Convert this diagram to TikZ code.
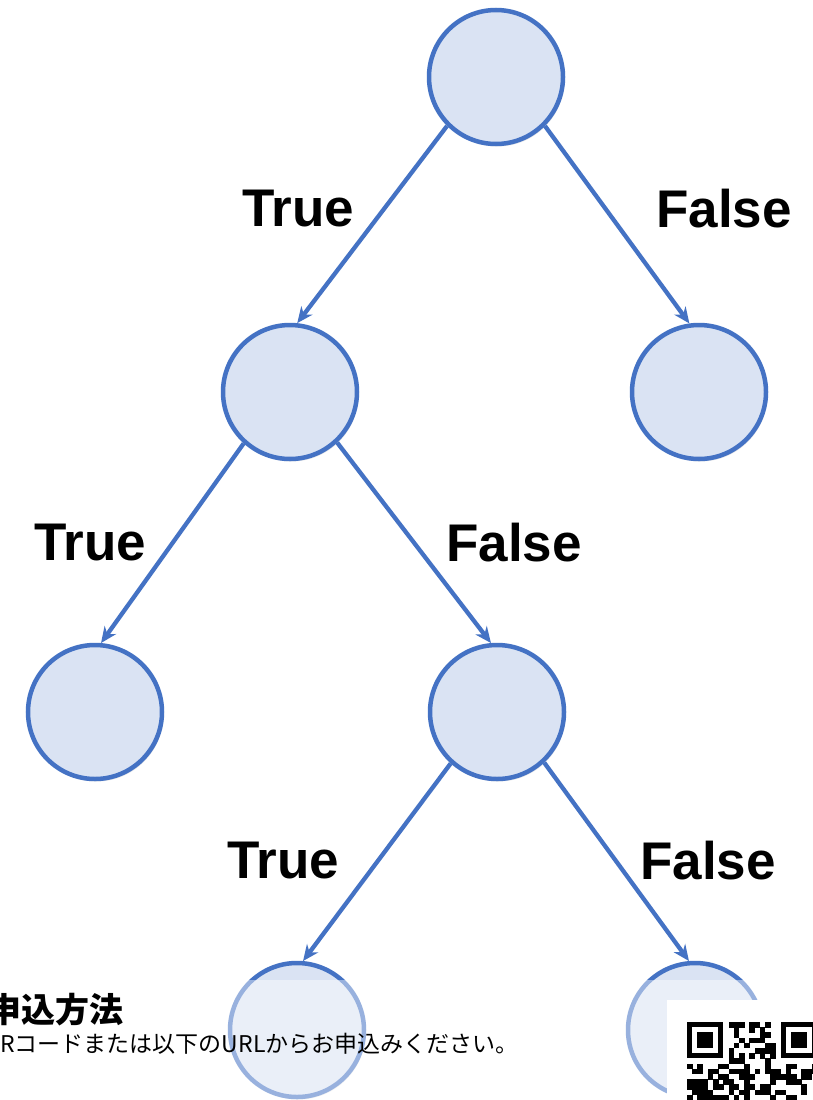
\documentclass[tikz,border=0pt]{standalone}
\usepackage{fontspec}
\setmainfont{Liberation Sans}
\newfontfamily\jpfont{Noto Sans CJK JP}
\usetikzlibrary{arrows.meta,shadows}
\definecolor{edgeblue}{RGB}{68,114,196}
\definecolor{fillblue}{RGB}{218,227,243}
\begin{document}
\begin{tikzpicture}[x=1pt,y=-1pt,
  tnode/.style={circle,draw=edgeblue,line width=4.5pt,fill=fillblue,minimum size=134pt,inner sep=0pt,
    drop shadow={opacity=0.18,shadow xshift=1.5pt,shadow yshift=-2.5pt}},
  conn/.style={draw=edgeblue,line width=4.3pt,-{Stealth[length=16pt,width=14pt]}},
  lbl/.style={font=\fontsize{53}{60}\selectfont\bfseries,inner sep=0pt}]
\useasboundingbox (0,0) rectangle (812,1100);
\fill[white] (0,0) rectangle (812,1100);
% nodes
\node[tnode] (n1) at (496,77) {};
\node[tnode] (n2) at (290,392) {};
\node[tnode] (n3) at (699,392) {};
\node[tnode] (n4) at (95,712) {};
\node[tnode] (n5) at (497,712) {};
\node[tnode] (n6) at (297,1030) {};
\node[tnode] (n7) at (695,1030) {};
% connectors
\draw[conn] (n1.225) -- (n2.84);
\draw[conn] (n1.-45) -- (n3.98);
\draw[conn] (n2.228) -- (n4.85);
\draw[conn] (n2.-47) -- (n5.95);
\draw[conn] (n5.228) -- (n6.85);
\draw[conn] (n5.-47) -- (n7.95);
% labels
\node[lbl] (t1) at (298,209) {True};
\node[lbl] (f1) at (724,209) {False};
\node[lbl] (t2) at (90,543) {True};
\node[lbl] (f2) at (514,543) {False};
\node[lbl] (t3) at (283,861) {True};
\node[lbl] (f3) at (708,861) {False};
% overlay
\fill[white,opacity=0.45] (0,980) rectangle (812,1100);
\node[anchor=west,inner sep=0pt,font=\jpfont\bfseries\fontsize{34}{38}\selectfont] (title) at (-13,1010) {申込方法};
\node[anchor=west,inner sep=0pt,font=\jpfont\fontsize{23}{26}\selectfont] (desc) at (-17,1045) {QRコードまたは以下のURLからお申込みください。};
% QR code
\fill[white] (667,1000) rectangle (812,1100);
\pgfmathsetseed{11}
\begin{scope}[shift={(687,1022)}]
\def\m{5.2}
\foreach \c in {0,...,24}{
  \foreach \r in {0,...,15}{
    \pgfmathtruncatemacro\inf{((\c<8)&&(\r<8))||((\c>16)&&(\r<8)) ? 1 : 0}
    \pgfmathtruncatemacro\rv{rnd<0.5 ? 1 : 0}
    \ifnum\inf=0
      \ifnum\r=6
        \pgfmathtruncatemacro\rv{mod(\c+1,2)}
      \fi
      \ifnum\c=6
        \pgfmathtruncatemacro\rv{mod(\r+1,2)}
      \fi
      \ifnum\rv=1 \fill[black] (\m*\c,\m*\r) rectangle ++(\m+0.3,\m+0.3); \fi
    \fi
  }
}
\foreach \ox in {0,18}{
  \fill[black] (\m*\ox,0) rectangle ++(7*\m,7*\m);
  \fill[white] (\m*\ox+\m,\m) rectangle ++(5*\m,5*\m);
  \fill[black] (\m*\ox+2*\m,2*\m) rectangle ++(3*\m,3*\m);
}
\end{scope}
\end{tikzpicture}
\end{document}
